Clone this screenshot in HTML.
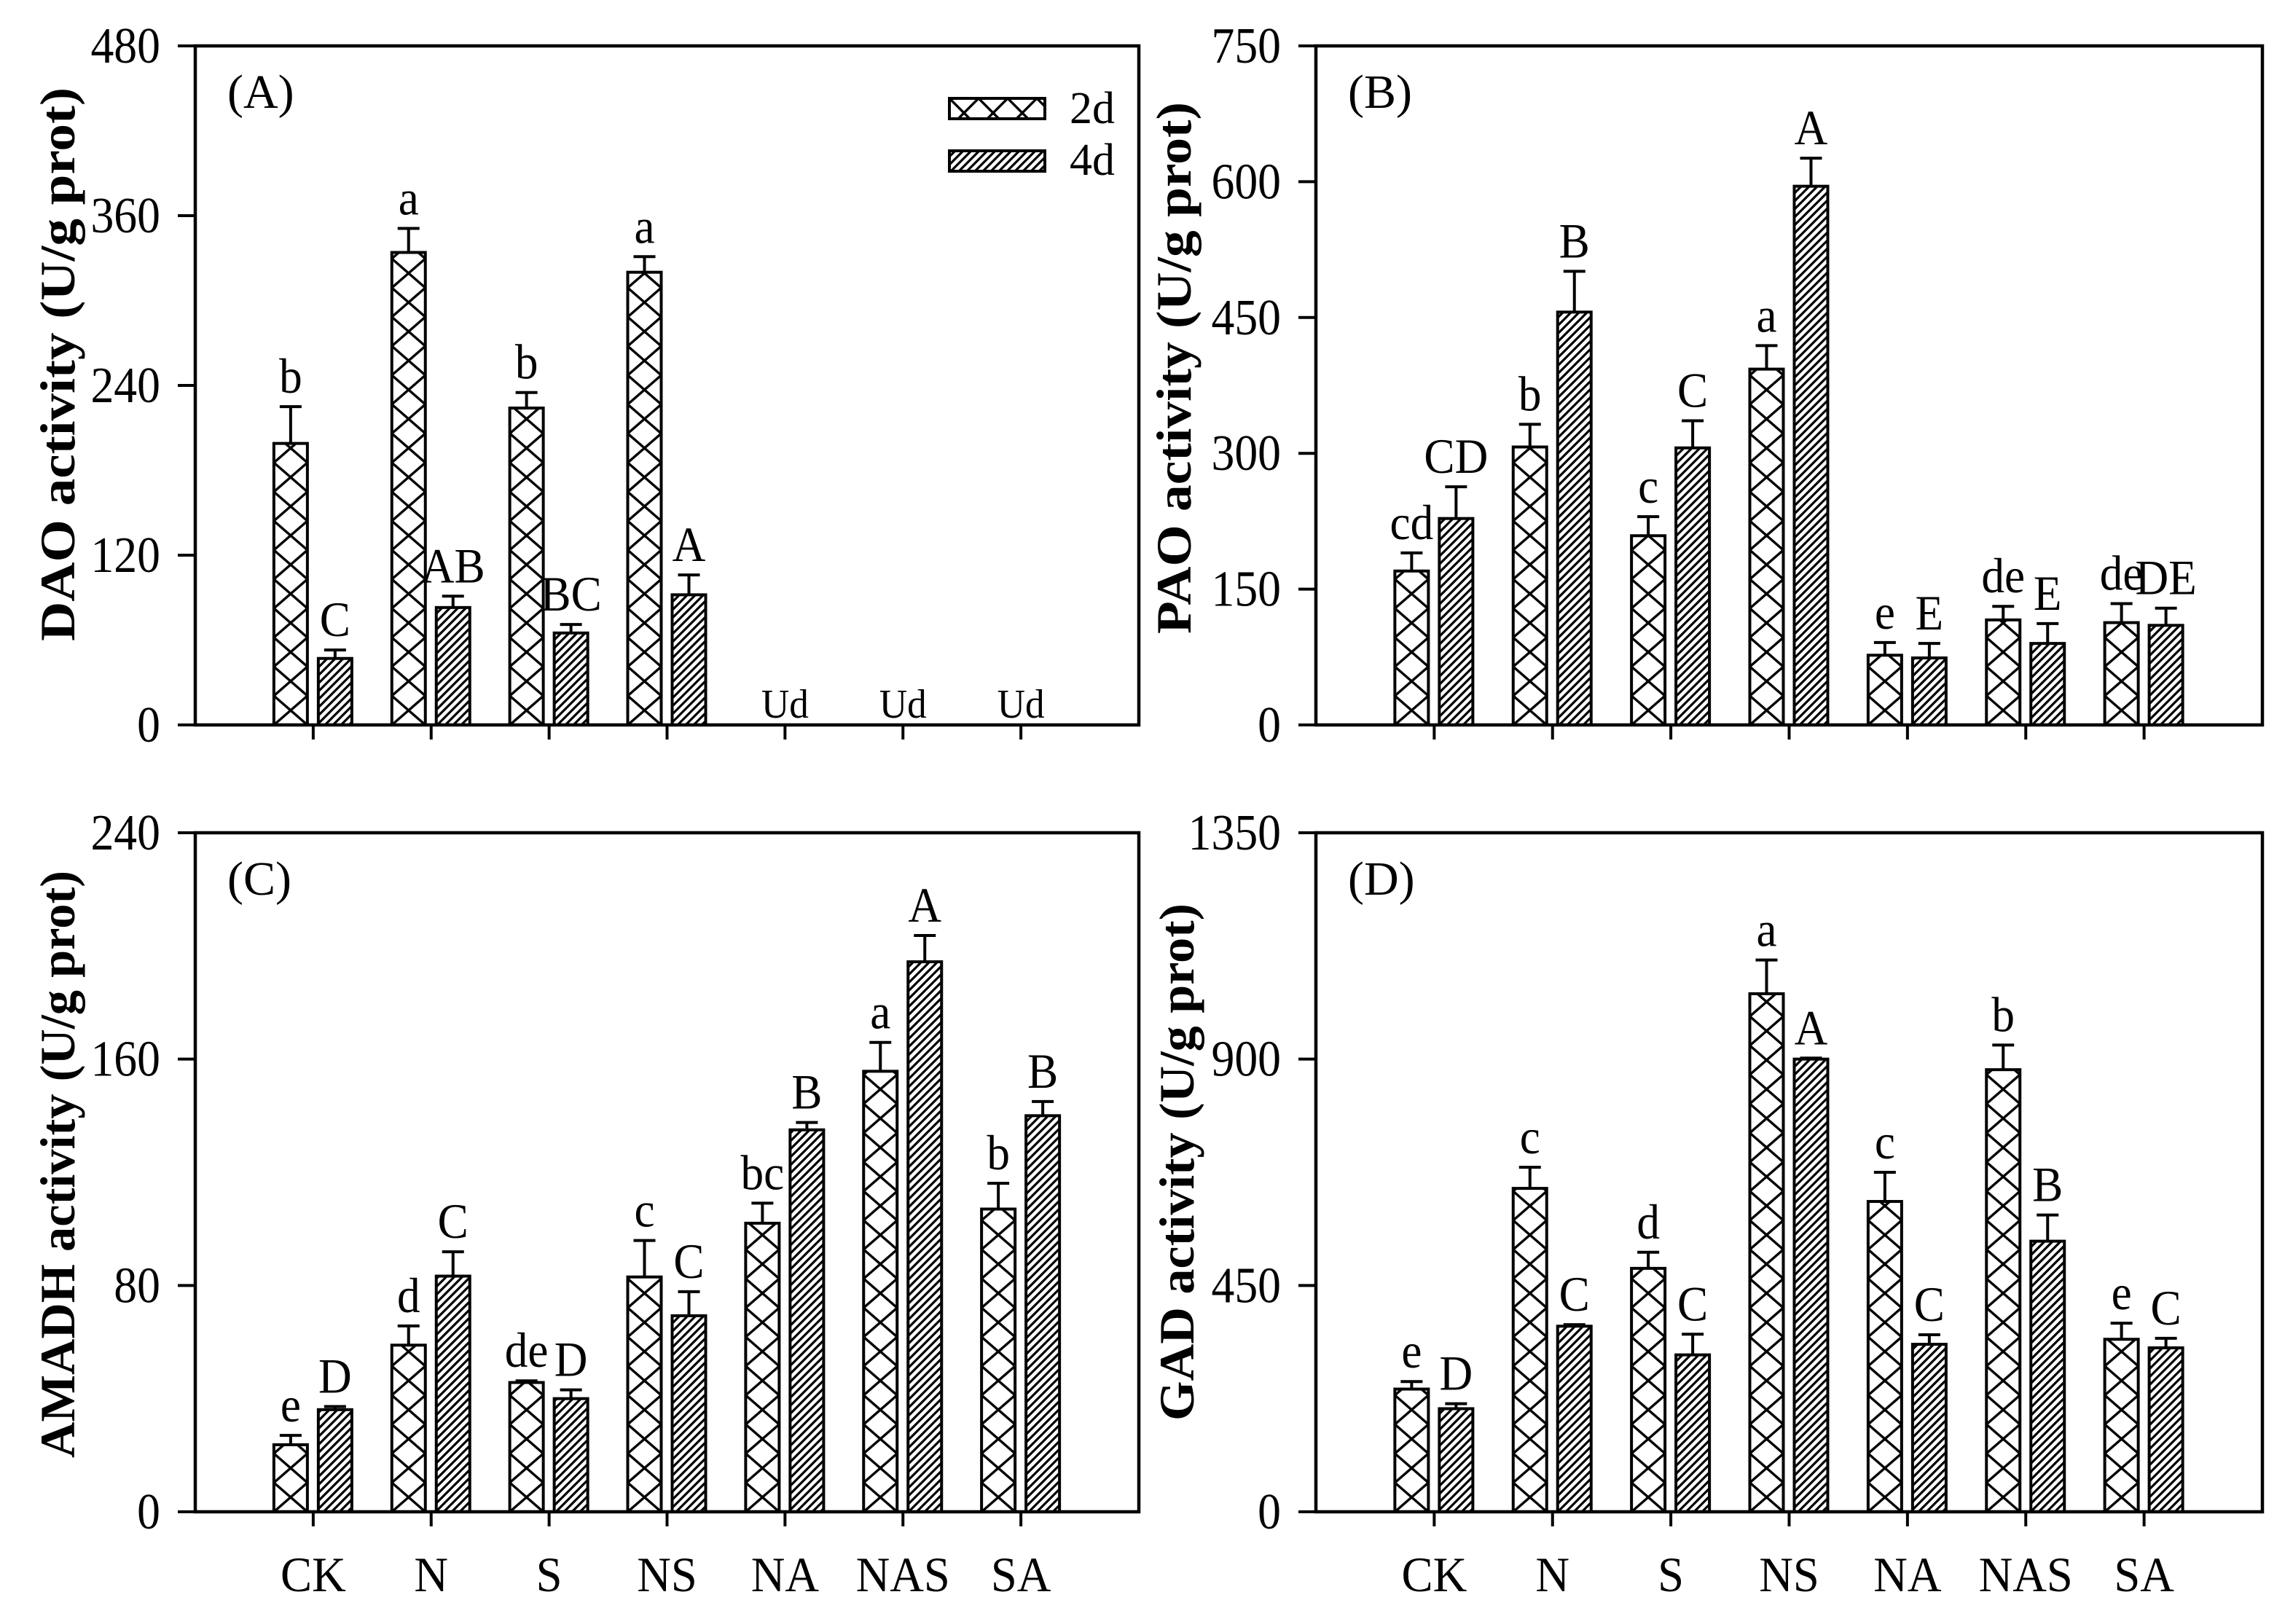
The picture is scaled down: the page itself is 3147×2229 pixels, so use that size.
<!DOCTYPE html>
<html><head><meta charset="utf-8"><style>
html,body{margin:0;padding:0;background:#fff}
svg{display:block}
text{font-family:"Liberation Serif",serif;fill:#000}
</style></head><body>
<svg id="fig" width="3147" height="2229" viewBox="0 0 3147 2229" xmlns="http://www.w3.org/2000/svg">
<defs>
<pattern id="stripe" patternUnits="userSpaceOnUse" width="11" height="11">
<path d="M-2,13 L13,-2 M-2,2 L2,-2 M9,13 L13,9" stroke="#000" stroke-width="3.2"/>
</pattern>
</defs>
<g id="root"></g>
</svg>
<script>
const categories = ["CK","N","S","NS","NA","NAS","SA"];
// Panel A: DAO
const daoD2 = [199,334,224,320,null,null,null];
const daoD2Err = [26,17,11,11,null,null,null];
const daoD4 = [47,83,65,92,null,null,null];
const daoD4Err = [6,8,6,14,null,null,null];
const daoLetters2 = ["b","a","b","a","","",""];
const daoLetters4 = ["C","AB","BC","A","","",""];
const daoTicks = [0,120,240,360,480];
// Panel B: PAO
const paoD2 = [170,307,209,393,77,116,113];
const paoD2Err = [20,25,21,26,14,15,21];
const paoD4 = [228,456,306,595,74,90,110];
const paoD4Err = [35,45,30,31,16,22,19];
const paoLetters2 = ["cd","b","c","a","e","de","de"];
const paoLetters4 = ["CD","B","C","A","E","E","DE"];
const paoTicks = [0,150,300,450,600,750];
// Panel C: AMADH
const amaD2 = [23.7,58.9,45.7,83,102,155.7,107];
const amaD2Err = [3.3,6.8,0.6,12.9,7.1,10.2,9.1];
const amaD4 = [36.1,83.3,40,69.3,135,194.4,140];
const amaD4Err = [1.1,8.6,3.1,8.5,2.6,9.3,5];
const amaLetters2 = ["e","d","de","c","bc","a","b"];
const amaLetters4 = ["D","C","D","C","B","A","B"];
const amaTicks = [0,80,160,240];
// Panel D: GAD
const gadD2 = [244,643,484,1030,617,879,343];
const gadD2Err = [15,42,32,67,58,49,32];
const gadD4 = [205,369,312,900,333,538,326];
const gadD4Err = [10,3,41,2,19,52,19];
const gadLetters2 = ["e","c","d","a","c","b","e"];
const gadLetters4 = ["D","C","C","A","C","B","C"];
const gadTicks = [0,450,900,1350];

const NS="http://www.w3.org/2000/svg";
const root=document.getElementById('root');
function el(tag,attrs,parent){const e=document.createElementNS(NS,tag);for(const k in attrs)e.setAttribute(k,attrs[k]);(parent||root).appendChild(e);return e;}
function txt(parent,x,y,fs,s,anchor,str){
  const t=el('text',{x:x,y:y,'font-size':fs,'text-anchor':anchor,transform:`translate(${x} ${y}) scale(${s} 1) translate(${-x} ${-y})`},parent);
  t.textContent=str;
  return t;
}
let patId=0;
function crossPattern(x,y,w){
  const id='cross'+(patId++);
  const p=el('pattern',{id:id,patternUnits:'userSpaceOnUse',width:w,height:40,x:x,y:y},document.querySelector('defs'));
  el('path',{d:`M0,0 L${w},40 M${w},0 L0,40 M${-w},0 L${w},80 M${2*w},0 L0,80`,stroke:'#000','stroke-width':3.4,fill:'none'},p);
  return 'url(#'+id+')';
}
function panel(cfg){
  const g=el('g',{});
  
  
  const {x0,x1,y0,y1,max}=cfg;
  const ys=v=>y1-(v/max)*(y1-y0);
  const xs=i=>x0+(i+1)*(x1-x0)/8;
  const fr=el('rect',{x:x0,y:y0,width:x1-x0,height:y1-y0,fill:'none',stroke:'#000','stroke-width':4.5},g);
  
  
  cfg.ticks.forEach(t=>{
    const yy=ys(t);
    el('line',{x1:x0-24,x2:x0,y1:yy,y2:yy,stroke:'#000','stroke-width':4},g);
    const tx=txt(g,x0-48,yy+23,70,0.91,'end',String(t));
    
    
  });
  const tt=el('text',{x:cfg.tx,y:cfg.ty,'font-size':68,'font-weight':'bold','text-anchor':'middle',textLength:cfg.tlen,lengthAdjust:'spacingAndGlyphs',transform:`rotate(-90 ${cfg.tx} ${cfg.ty})`},g);
  tt.textContent=cfg.title;
  
  
  const pl=txt(g,x0+44,y0+85,66,1,'start',cfg.label);
  
  
  categories.forEach((c,i)=>{
    const cx=xs(i);
    el('line',{x1:cx,x2:cx,y1:y1,y2:y1+20,stroke:'#000','stroke-width':4},g);
    if(cfg.xlabels){
      const xl=txt(g,cx,2184,68,0.95,'middle',c);
      
      
    }
    const series=[[cfg.d2,cfg.e2,cfg.l2,cx-54,'2d'],[cfg.d4,cfg.e4,cfg.l4,cx+7,'4d']];
    series.forEach(([d,e,l,bx,s])=>{
      const v=d[i];
      if(v==null) return;
      const bw=46, top=ys(v);
      const fill=s==='2d'?crossPattern(bx,y1,bw):'url(#stripe)';
      const r=el('rect',{x:bx,y:top,width:bw,height:y1-top,fill:fill,stroke:'#000','stroke-width':4},g);
      
      
      const et=ys(v+e[i]);
      const bc=bx+bw/2;
      el('line',{x1:bc,x2:bc,y1:top,y2:et,stroke:'#000','stroke-width':4},g);
      el('line',{x1:bc-15,x2:bc+15,y1:et,y2:et,stroke:'#000','stroke-width':4},g);
      const lt=txt(g,bc,et-19,68,0.93,'middle',l[i]);
      
      
    });
    if(cfg.ud && cfg.d2[i]==null){
      const u=txt(g,cx,985,56,0.95,'middle','Ud');
      
      
    }
  });
}
panel({name:'panel-a-dao',x0:268,x1:1563,y0:63,y1:995,max:480,ticks:daoTicks,title:'DAO activity (U/g prot)',tx:102,ty:500,tlen:760,label:'(A)',d2:daoD2,e2:daoD2Err,d4:daoD4,e4:daoD4Err,l2:daoLetters2,l4:daoLetters4,ud:true});
panel({name:'panel-b-pao',x0:1806,x1:3105,y0:63,y1:995,max:750,ticks:paoTicks,title:'PAO activity (U/g prot)',tx:1634,ty:505,tlen:730,label:'(B)',d2:paoD2,e2:paoD2Err,d4:paoD4,e4:paoD4Err,l2:paoLetters2,l4:paoLetters4});
panel({name:'panel-c-amadh',x0:268,x1:1563,y0:1143,y1:2075,max:240,ticks:amaTicks,title:'AMADH activity (U/g prot)',tx:102,ty:1598,tlen:806,label:'(C)',d2:amaD2,e2:amaD2Err,d4:amaD4,e4:amaD4Err,l2:amaLetters2,l4:amaLetters4,xlabels:true});
panel({name:'panel-d-gad',x0:1806,x1:3105,y0:1143,y1:2075,max:1350,ticks:gadTicks,title:'GAD activity (U/g prot)',tx:1638,ty:1595,tlen:710,label:'(D)',d2:gadD2,e2:gadD2Err,d4:gadD4,e4:gadD4Err,l2:gadLetters2,l4:gadLetters4,xlabels:true});
const lg=el('g',{});


const lb1=el('rect',{x:1303,y:135,width:131,height:28,fill:crossPattern(1303,135,40),stroke:'#000','stroke-width':4},lg);


const lt1=txt(lg,1468,169,62,1,'start','2d');


const lb2=el('rect',{x:1303,y:207,width:131,height:28,fill:'url(#stripe)',stroke:'#000','stroke-width':4},lg);


const lt2=txt(lg,1468,240,62,1,'start','4d');


</script>
</body></html>
